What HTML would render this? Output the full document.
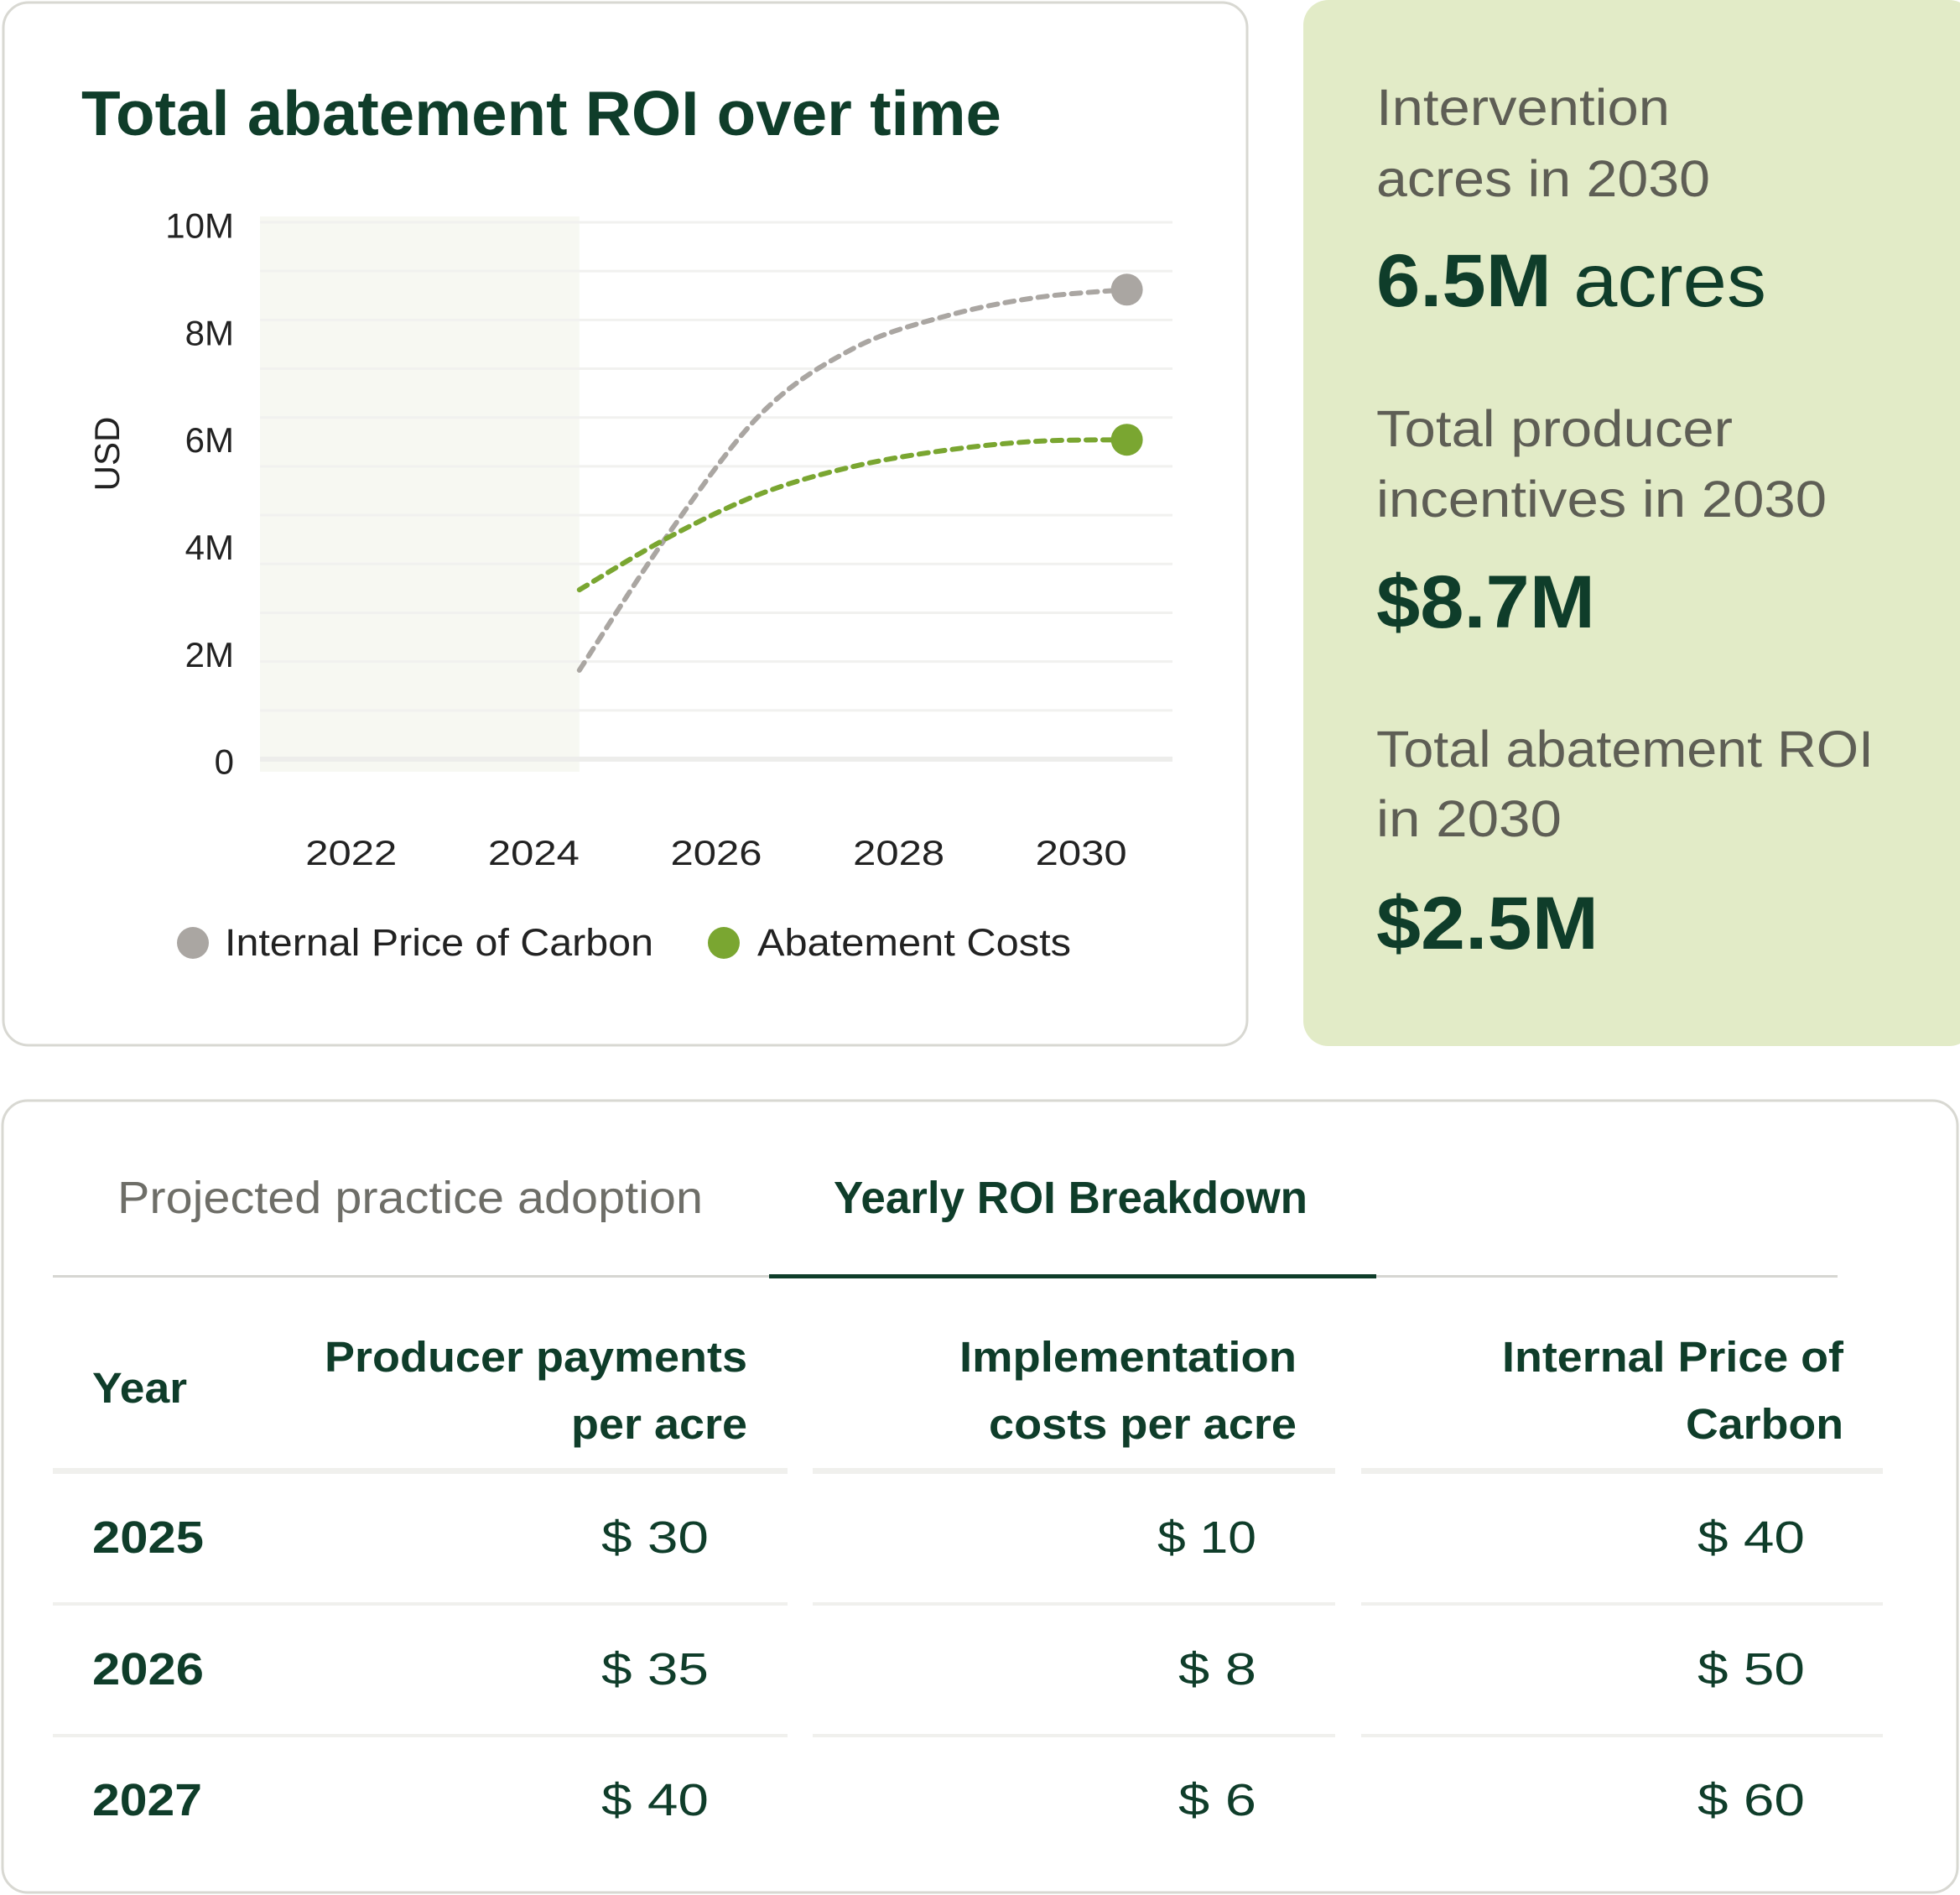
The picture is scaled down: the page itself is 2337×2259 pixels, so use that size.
<!DOCTYPE html>
<html><head><meta charset="utf-8"><style>
html,body{margin:0;padding:0;background:#fff;}
svg{display:block;font-family:"Liberation Sans",sans-serif;}
</style></head><body>
<svg id="root" width="2337" height="2259" viewBox="0 0 2337 2259" xmlns="http://www.w3.org/2000/svg">
<rect x="4" y="3" width="1483" height="1243" rx="30" fill="#fff" stroke="#d8d8d2" stroke-width="3"/>
<rect x="1554" y="0" width="800" height="1247" rx="30" fill="#e2ebc7"/>
<rect x="3" y="1312" width="2331" height="944" rx="30" fill="#fff" stroke="#d8d8d2" stroke-width="3"/>

<text x="97" y="161" font-size="75" font-weight="bold" fill="#0f3d2a" textLength="1097" lengthAdjust="spacingAndGlyphs">Total abatement ROI over time</text>

<g id="chart"></g>

<text transform="translate(142,541) rotate(-90)" text-anchor="middle" font-size="42" fill="#222">USD</text>

<g>
<circle cx="230" cy="1124" r="19" fill="#aaa6a2"/>
<text x="268" y="1139" font-size="45" fill="#222" textLength="511" lengthAdjust="spacingAndGlyphs">Internal Price of Carbon</text>
<circle cx="863" cy="1124" r="19" fill="#7aa631"/>
<text x="903" y="1139" font-size="45" fill="#222" textLength="374" lengthAdjust="spacingAndGlyphs">Abatement Costs</text>
</g>

<g fill="#5e5e55" font-size="61">
<text x="1641" y="149" textLength="350" lengthAdjust="spacingAndGlyphs">Intervention</text>
<text x="1641" y="234" textLength="398" lengthAdjust="spacingAndGlyphs">acres in 2030</text>
<text x="1641" y="365" font-size="89" fill="#0f3d2a" textLength="465" lengthAdjust="spacingAndGlyphs"><tspan font-weight="bold">6.5M</tspan> acres</text>
<text x="1641" y="532" textLength="425" lengthAdjust="spacingAndGlyphs">Total producer</text>
<text x="1641" y="616" textLength="537" lengthAdjust="spacingAndGlyphs">incentives in 2030</text>
<text x="1641" y="748" font-size="89" font-weight="bold" fill="#0f3d2a" textLength="261" lengthAdjust="spacingAndGlyphs">$8.7M</text>
<text x="1641" y="914" textLength="593" lengthAdjust="spacingAndGlyphs">Total abatement ROI</text>
<text x="1641" y="997" textLength="221" lengthAdjust="spacingAndGlyphs">in 2030</text>
<text x="1641" y="1131" font-size="89" font-weight="bold" fill="#0f3d2a" textLength="265" lengthAdjust="spacingAndGlyphs">$2.5M</text>
</g>

<g>
<text x="140" y="1446" font-size="54" fill="#6e6e68" textLength="698" lengthAdjust="spacingAndGlyphs">Projected practice adoption</text>
<text x="994" y="1446" font-size="54" font-weight="bold" fill="#0f3d2a" textLength="565" lengthAdjust="spacingAndGlyphs">Yearly ROI Breakdown</text>
<rect x="63" y="1520" width="2128" height="3" fill="#d6d6d2"/>
<rect x="917" y="1519" width="724" height="5" fill="#0f3d2a"/>
</g>

<g font-size="51" font-weight="bold" fill="#0f3d2a">
<text x="110" y="1672" textLength="113" lengthAdjust="spacingAndGlyphs">Year</text>
<text x="891" y="1635" text-anchor="end" textLength="504" lengthAdjust="spacingAndGlyphs">Producer payments</text>
<text x="891" y="1715" text-anchor="end" textLength="210" lengthAdjust="spacingAndGlyphs">per acre</text>
<text x="1546" y="1635" text-anchor="end" textLength="402" lengthAdjust="spacingAndGlyphs">Implementation</text>
<text x="1546" y="1715" text-anchor="end" textLength="367" lengthAdjust="spacingAndGlyphs">costs per acre</text>
<text x="2198" y="1635" text-anchor="end" textLength="407" lengthAdjust="spacingAndGlyphs">Internal Price of</text>
<text x="2198" y="1715" text-anchor="end" textLength="188" lengthAdjust="spacingAndGlyphs">Carbon</text>
</g>
<g fill="#f0f0ed">
<rect x="63" y="1750" width="876" height="7"/><rect x="969" y="1750" width="623" height="7"/><rect x="1623" y="1750" width="622" height="7"/>
<rect x="63" y="1910" width="876" height="4"/><rect x="969" y="1910" width="623" height="4"/><rect x="1623" y="1910" width="622" height="4"/>
<rect x="63" y="2067" width="876" height="4"/><rect x="969" y="2067" width="623" height="4"/><rect x="1623" y="2067" width="622" height="4"/>
</g>
<g font-size="54" fill="#0f3d2a">
<text x="110" y="1851" font-weight="bold" textLength="133" lengthAdjust="spacingAndGlyphs">2025</text>
<text x="845" y="1851" text-anchor="end" textLength="128" lengthAdjust="spacingAndGlyphs">$  30</text>
<text x="1498" y="1851" text-anchor="end" textLength="118" lengthAdjust="spacingAndGlyphs">$  10</text>
<text x="2152" y="1851" text-anchor="end" textLength="128" lengthAdjust="spacingAndGlyphs">$  40</text>
<text x="110" y="2008" font-weight="bold" textLength="133" lengthAdjust="spacingAndGlyphs">2026</text>
<text x="845" y="2008" text-anchor="end" textLength="128" lengthAdjust="spacingAndGlyphs">$  35</text>
<text x="1498" y="2008" text-anchor="end" textLength="93" lengthAdjust="spacingAndGlyphs">$  8</text>
<text x="2152" y="2008" text-anchor="end" textLength="128" lengthAdjust="spacingAndGlyphs">$  50</text>
<text x="110" y="2164" font-weight="bold" textLength="131" lengthAdjust="spacingAndGlyphs">2027</text>
<text x="845" y="2164" text-anchor="end" textLength="128" lengthAdjust="spacingAndGlyphs">$  40</text>
<text x="1498" y="2164" text-anchor="end" textLength="93" lengthAdjust="spacingAndGlyphs">$  6</text>
<text x="2152" y="2164" text-anchor="end" textLength="128" lengthAdjust="spacingAndGlyphs">$  60</text>
</g>
</svg>
<script>
const years = [2024.5, 2025.5, 2026.5, 2027.5, 2028.5, 2029.5, 2030.5];
const carbonValues = [1.7, 4.3, 6.5, 7.7, 8.3, 8.65, 8.8];
const abatementValues = [3.2, 4.2, 5.0, 5.5, 5.8, 5.97, 6.0];
const yTicks = [0, 2, 4, 6, 8, 10];
const yTickLabels = ['0', '2M', '4M', '6M', '8M', '10M'];
const xTicks = [2022, 2024, 2026, 2028, 2030];
const historicEnd = 2024.5;

const NS = 'http://www.w3.org/2000/svg';
const X0 = 310, X1 = 1398, Y_TOP = 265, Y_BOT = 905;
function xs(yr){ return X0 + (yr - 2021) * 108.8; }
function ys(v){ return 907.6 - v * 63.9; }
const g = document.getElementById('chart');
function mk(tag, attrs){ const e = document.createElementNS(NS, tag); for (const k in attrs) e.setAttribute(k, attrs[k]); g.appendChild(e); return e; }

const shade = mk('rect', {x: X0, y: 258, width: xs(historicEnd) - X0, height: 662, fill: '#f7f8f2'});



for (let i = 0; i < 12; i++) {
  const y = Y_TOP + i * (Y_BOT - Y_TOP) / 11;
  const l = mk('line', {x1: X0, x2: X1, y1: y, y2: y, stroke: i === 11 ? '#ededeb' : '#f1f1ef', 'stroke-width': i === 11 ? 6 : 3});
  
  
}
yTicks.forEach((v, i) => {
  const t = mk('text', {x: 279, y: ys(v) + 15, 'text-anchor': 'end', 'font-size': 42, fill: '#222'});
  t.textContent = yTickLabels[i];
  
  
});
xTicks.forEach(v => {
  const t = mk('text', {x: xs(v), y: 1031, 'text-anchor': 'middle', 'font-size': 42, fill: '#222', textLength: 109, lengthAdjust: 'spacingAndGlyphs'});
  t.textContent = String(v);
  
  
});
function pathFor(vals){
  const p = years.map((yr, i) => [xs(yr), ys(vals[i])]);
  let d = 'M' + p[0][0] + ',' + p[0][1];
  for (let i = 0; i < p.length - 1; i++) {
    const p0 = p[Math.max(0, i - 1)], p1 = p[i], p2 = p[i + 1], p3 = p[Math.min(p.length - 1, i + 2)];
    const c1 = [p1[0] + (p2[0] - p0[0]) / 6, p1[1] + (p2[1] - p0[1]) / 6];
    const c2 = [p2[0] - (p3[0] - p1[0]) / 6, p2[1] - (p3[1] - p1[1]) / 6];
    d += ' C' + c1.join(',') + ' ' + c2.join(',') + ' ' + p2.join(',');
  }
  return d;
}
const carbonLine = mk('path', {d: pathFor(carbonValues), fill: 'none', stroke: '#aaa6a2', 'stroke-width': 6, 'stroke-dasharray': '11 9', 'stroke-linecap': 'round'});


const abLine = mk('path', {d: pathFor(abatementValues), fill: 'none', stroke: '#7aa631', 'stroke-width': 6, 'stroke-dasharray': '11 9', 'stroke-linecap': 'round'});


const last = years.length - 1;
const cDot = mk('circle', {cx: xs(years[last]), cy: ys(carbonValues[last]), r: 19, fill: '#aaa6a2'});


const aDot = mk('circle', {cx: xs(years[last]), cy: ys(abatementValues[last]), r: 19, fill: '#7aa631'});


</script>
</body></html>
